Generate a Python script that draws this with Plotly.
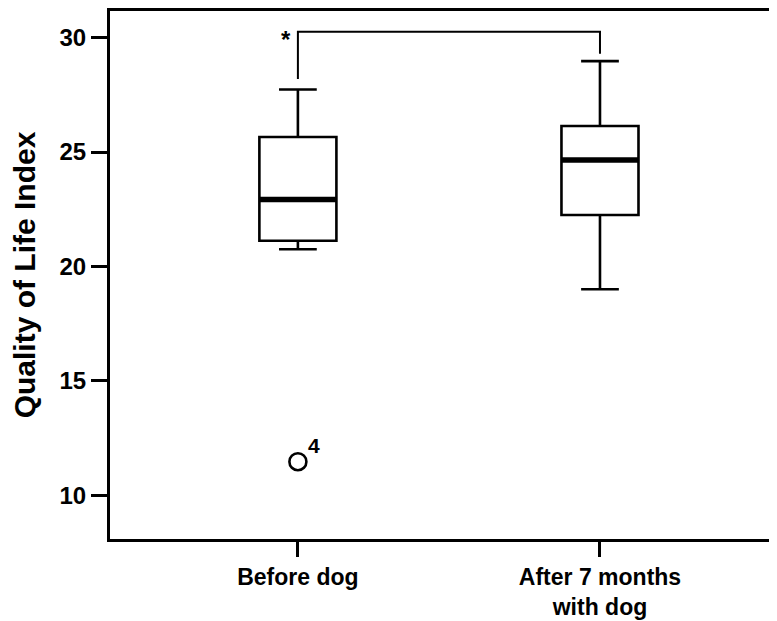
import plotly.graph_objects as go

# ---- data ----
categories = ["Before dog", "After 7 months<br>with dog"]
cat_pos = [0, 1]
q1 = [21.12, 22.25]
median = [22.93, 24.65]
q3 = [25.66, 26.14]
lower_whisker = [20.75, 19.0]
upper_whisker = [27.74, 28.98]
outlier_x = [0]
outlier_y = [11.46]
outlier_labels = ["4"]
bracket_x = [0, 0, 1, 1]
bracket_y = [28.2, 30.26, 30.26, 29.3]
y_ticks = [10, 15, 20, 25, 30]

BOX_W = 0.255
FONT = "Liberation Sans, Arial, sans-serif"

fig = go.Figure()
fig.add_trace(go.Box(
    x=cat_pos, q1=q1, median=median, q3=q3,
    lowerfence=lower_whisker, upperfence=upper_whisker,
    width=BOX_W, whiskerwidth=0.49,
    fillcolor="white", line=dict(color="black", width=2.6),
    boxpoints=False, showlegend=False, hoverinfo="skip",
))

# thick median lines
for xi, m in zip(cat_pos, median):
    fig.add_shape(type="line", xref="x", yref="y",
                  x0=xi - BOX_W / 2, x1=xi + BOX_W / 2, y0=m, y1=m,
                  line=dict(color="black", width=5.5))

# outlier
fig.add_trace(go.Scatter(
    x=outlier_x, y=outlier_y, mode="markers",
    marker=dict(symbol="circle-open", size=17, color="black", line=dict(width=2.6)),
    showlegend=False, hoverinfo="skip",
))
for xo, yo, lab in zip(outlier_x, outlier_y, outlier_labels):
    fig.add_annotation(x=xo, y=yo, text=lab, showarrow=False,
                       xshift=16, yshift=16,
                       font=dict(family=FONT, size=21, color="black", weight="bold"))

# significance bracket
fig.add_trace(go.Scatter(
    x=bracket_x, y=bracket_y, mode="lines",
    line=dict(color="black", width=2),
    showlegend=False, hoverinfo="skip",
))
fig.add_annotation(x=bracket_x[0], y=bracket_y[1], text="*", showarrow=False,
                   xshift=-12, yshift=-8,
                   font=dict(family=FONT, size=24, color="black", weight="bold"))

fig.update_layout(
    width=769, height=613,
    margin=dict(l=102, r=0, t=3, b=82),
    paper_bgcolor="white", plot_bgcolor="white",
    font=dict(family=FONT, color="black"),
    xaxis=dict(
        range=[-0.622, 1.586],
        tickmode="array", tickvals=cat_pos, ticktext=categories,
        showline=True, linecolor="black", linewidth=3, mirror=True,
        ticks="outside", ticklen=15, tickwidth=2.5, tickcolor="black",
        showgrid=False, zeroline=False,
        tickfont=dict(family=FONT, size=23, color="black", weight="bold"),
    ),
    yaxis=dict(
        range=[8.08, 31.17],
        tickmode="array", tickvals=y_ticks,
        showline=True, linecolor="black", linewidth=3, mirror=False,
        ticks="outside", ticklen=16, tickwidth=2.5, tickcolor="black",
        showgrid=False, zeroline=False,
        tickfont=dict(family=FONT, size=24, color="black", weight="bold"),
        title=dict(text="Quality of Life Index", standoff=16,
                   font=dict(family=FONT, size=30, color="black", weight="bold")),
    ),
)

fig.write_html("out.html")
